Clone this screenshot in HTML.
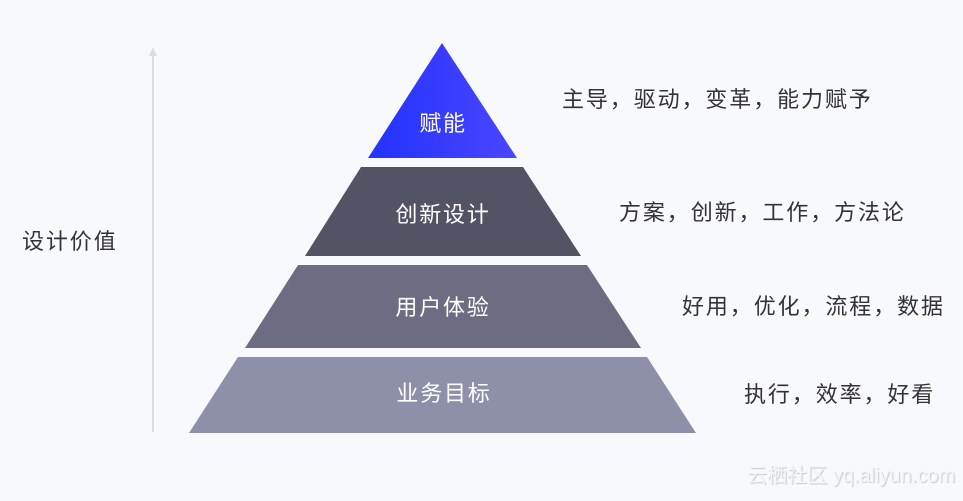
<!DOCTYPE html>
<html><head><meta charset="utf-8"><style>
body{margin:0;background:#f8f9fc;width:963px;height:501px;overflow:hidden;position:relative;font-family:"Liberation Sans","Noto Sans CJK SC",sans-serif}
.t{position:absolute;font-size:22px;letter-spacing:1.9px;color:#333;white-space:nowrap;line-height:1}
.w{position:absolute;font-size:22px;letter-spacing:1.8px;color:#fff;white-space:nowrap;line-height:1;transform:translateX(-50%)}
</style></head><body>
<svg width="963" height="501" style="position:absolute;left:0;top:0">
<defs><linearGradient id="g" x1="0" x2="1" y1="0" y2="0"><stop offset="0" stop-color="#2232ff"/><stop offset="1" stop-color="#4b46ff"/></linearGradient></defs>
<line x1="153" y1="50" x2="153" y2="432" stroke="#dcdde3" stroke-width="2"/>
<polygon points="149,56 153,47 157,56" fill="#dcdde3"/>
<polygon points="442,43 517,158 368,158" fill="url(#g)"/>
<polygon points="361,167 523,167 581,256 305,256" fill="#525465"/>
<polygon points="298,265 587,265 641,348 245,348" fill="#6c6d82"/>
<polygon points="238,357 647,357 696,433 189,433" fill="#8e8fa9"/>
</svg>
<div class="w" style="left:443px;top:113px">赋能</div>
<div class="w" style="left:443px;top:204px">创新设计</div>
<div class="w" style="left:443px;top:297px">用户体验</div>
<div class="w" style="left:444px;top:383px">业务目标</div>
<div class="t" style="left:562px;top:89px">主导，驱动，变革，能力赋予</div>
<div class="t" style="left:619px;top:202px">方案，创新，工作，方法论</div>
<div class="t" style="left:682px;top:296px">好用，优化，流程，数据</div>
<div class="t" style="left:744px;top:384px">执行，效率，好看</div>
<div class="t" style="left:22px;top:231px">设计价值</div>
<div style="position:absolute;right:8px;top:459px;font-size:20px;color:#f4f5f8;text-shadow:1px 1px 1px #c8c9d0;white-space:nowrap">云栖社区 yq.aliyun.com</div>
</body></html>
